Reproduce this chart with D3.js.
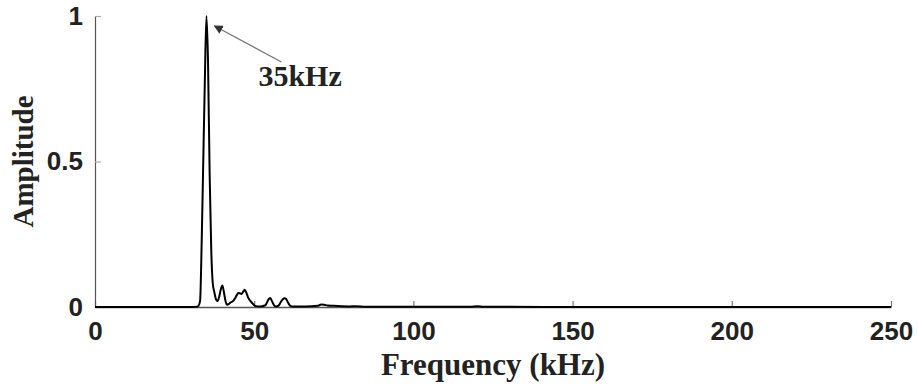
<!DOCTYPE html>
<html>
<head>
<meta charset="utf-8">
<script src="https://cdn.jsdelivr.net/npm/d3@7"></script>
<style>
  html, body { margin: 0; padding: 0; background: #fff; }
  svg { display: block; }
</style>
</head>
<body>
<svg id="chart" width="918" height="385"></svg>
<script>
// Amplitude spectrum (normalised), frequency in kHz
const freq = [
  0, 10, 20, 30, 32, 32.5, 33, 33.5, 34, 34.5, 35, 35.5, 36, 36.5, 37, 37.5, 38, 38.5,
  39, 39.5, 40, 40.5, 41, 41.5, 42, 42.5, 43, 43.5, 44, 44.5, 45, 45.5, 46, 46.5, 47,
  47.5, 48, 48.5, 49, 49.5, 50, 50.5, 52, 53.5, 54, 54.5, 55, 55.5, 56, 56.5, 57, 57.5,
  58, 58.5, 59, 59.5, 60, 60.5, 61, 61.5, 62, 66, 70, 71, 72, 73, 75, 80, 82, 85, 90,
  100, 110, 118, 120, 122, 130, 150, 200, 250
];
const amplitude = [
  0, 0, 0, 0, 0.001, 0.004, 0.02, 0.22, 0.5, 0.78, 1.0, 0.84, 0.46, 0.2, 0.08, 0.05, 0.026, 0.02,
  0.035, 0.06, 0.074, 0.05, 0.02, 0.008, 0.01, 0.015, 0.018, 0.022, 0.03, 0.04, 0.048, 0.047, 0.045, 0.052, 0.059,
  0.05, 0.035, 0.025, 0.018, 0.012, 0.006, 0.003, 0.002, 0.006, 0.015, 0.026, 0.031, 0.022, 0.01, 0.003, 0.002, 0.004,
  0.01, 0.02, 0.027, 0.03, 0.028, 0.018, 0.008, 0.003, 0.002, 0.002, 0.004, 0.009, 0.008, 0.005, 0.004, 0.002, 0.003, 0.001, 0.001,
  0.001, 0.001, 0.001, 0.003, 0.001, 0.0005, 0, 0, 0
];
const xTicks = [0, 50, 100, 150, 200, 250];
const yTicks = [0, 0.5, 1];
const peakLabel = "35kHz";
const peakFreq = 35;
const xTitle = "Frequency (kHz)";
const yTitle = "Amplitude";

const svg = d3.select("#chart");
const margin = { left: 95, right: 27, top: 16, bottom: 78 };
const W = 918, H = 385;

const x = d3.scaleLinear().domain([0, 250]).range([margin.left, W - margin.right]);
const y = d3.scaleLinear().domain([0, 1]).range([H - margin.bottom, margin.top]);

const sansBold = "'Liberation Sans', Arial, sans-serif";
const serifBold = "'Liberation Serif', 'Times New Roman', serif";

// x axis (ticks pointing inward)
const gx = svg.append("g").attr("transform", `translate(0,${y(0)})`)
  .call(d3.axisBottom(x).tickValues(xTicks).tickFormat(d3.format("d")).tickSizeInner(-6).tickSizeOuter(0).tickPadding(15));
gx.select(".domain").attr("stroke", "#555").attr("stroke-width", 1.6);
gx.selectAll(".tick line").attr("stroke", "#777").attr("stroke-width", 1.2);
gx.selectAll(".tick text").attr("font-family", sansBold).attr("font-weight", "bold")
  .attr("font-size", 26).attr("fill", "#222");

// y axis
const gy = svg.append("g").attr("transform", `translate(${x(0)},0)`)
  .call(d3.axisLeft(y).tickValues(yTicks).tickFormat(d => d === 0.5 ? "0.5" : d3.format("d")(d))
    .tickSizeInner(-6).tickSizeOuter(0).tickPadding(12));
gy.select(".domain").attr("stroke", "#555").attr("stroke-width", 1.2);
gy.selectAll(".tick line").attr("stroke", "#aaa").attr("stroke-width", 1.2);
gy.selectAll(".tick text").attr("font-family", sansBold).attr("font-weight", "bold")
  .attr("font-size", 26).attr("fill", "#222");

// spectrum curve
const pts = freq.map((f, i) => [f, amplitude[i]]);
const line = d3.line().x(d => x(d[0])).y(d => y(d[1])).curve(d3.curveMonotoneX);
svg.append("path").datum(pts).attr("d", line)
  .attr("fill", "none").attr("stroke", "#000").attr("stroke-width", 2).attr("stroke-linejoin", "round");

// peak annotation
const defs = svg.append("defs");
defs.append("marker").attr("id", "arrowHead").attr("viewBox", "0 0 10 10")
  .attr("refX", 9).attr("refY", 5).attr("markerWidth", 9).attr("markerHeight", 9)
  .attr("markerUnits", "userSpaceOnUse").attr("orient", "auto")
  .append("path").attr("d", "M0,0 L10,5 L0,10 Z").attr("fill", "#333");

const px = x(peakFreq), py = y(1);
svg.append("line")
  .attr("x1", px + 75).attr("y1", py + 46)
  .attr("x2", px + 8).attr("y2", py + 10)
  .attr("stroke", "#777").attr("stroke-width", 1.3)
  .attr("marker-end", "url(#arrowHead)");
svg.append("text").attr("x", px + 52).attr("y", py + 70)
  .attr("font-family", serifBold).attr("font-weight", "bold").attr("font-size", 30)
  .attr("fill", "#222").text(peakLabel);

// axis titles
svg.append("text").attr("x", x(125)).attr("y", 375).attr("text-anchor", "middle")
  .attr("font-family", serifBold).attr("font-weight", "bold").attr("font-size", 31)
  .attr("fill", "#222").text(xTitle);
svg.append("text").attr("transform", `translate(33,${y(0.5)}) rotate(-90)`).attr("text-anchor", "middle")
  .attr("font-family", serifBold).attr("font-weight", "bold").attr("font-size", 29)
  .attr("fill", "#222").text(yTitle);
</script>
</body>
</html>
